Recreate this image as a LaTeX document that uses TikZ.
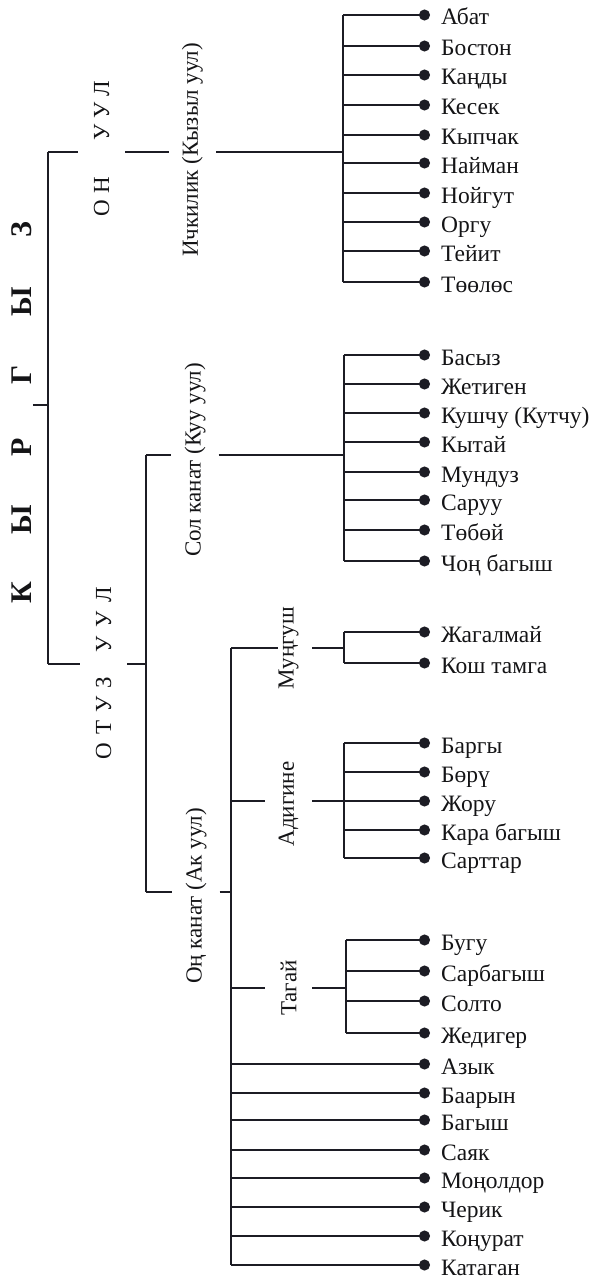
\documentclass[tikz,border=0pt]{standalone}
\usepackage{fontspec}
\setmainfont{Liberation Serif}
\usetikzlibrary{arrows.meta}
\definecolor{ink}{RGB}{28,28,36}
\definecolor{txt}{RGB}{20,20,22}
\begin{document}
\begin{tikzpicture}[x=1pt,y=-1pt,
  ln/.style={line width=1.15pt, draw=ink},
  lf/.style={ln, -{Circle[length=11pt,width=11pt]}},
  leaf/.style={anchor=west, inner xsep=11pt, inner ysep=0pt, text height=20pt, text depth=0pt,
               font=\fontsize{23.5}{25}\selectfont, text=txt},
  grp/.style={rotate=90, minimum height=47pt, inner sep=0pt, font=\fontsize{23}{25}\selectfont, text=txt},
  ttl/.style={rotate=90, inner xsep=0pt, inner ysep=0.5pt, font=\bfseries\fontsize{30}{32}\selectfont, text=txt}
]
\useasboundingbox (0,0) rectangle (595,1279);

% title
\node[ttl] (kyr) at (22,411) {\makebox[72.6pt]{К}\makebox[72.6pt]{Ы}\makebox[72.6pt]{Р}\makebox[72.6pt]{Г}\makebox[72.6pt]{Ы}\makebox[72.6pt]{З}};
\coordinate (root) at (48,405);
\coordinate (lbT) at (48,152);
\coordinate (lbB) at (48,664);
\draw[ln] (kyr.south |- root) -- (root);
\draw[ln] (lbT) -- (lbB);

% ОН УУЛ
\node[grp] (on) at (101.5,148.5) {О\kern6ptН\hspace{36pt}У\kern6ptУ\kern6ptЛ};
\node[grp] (ichk) at (192.5,150) {Ичкилик (Кызыл уул)};
\coordinate (g1in) at (343,152);
\draw[ln] (lbT) -- (on.north |- lbT);
\draw[ln] (on.south |- lbT) -- (ichk.north |- lbT);
\draw[ln] (ichk.south |- g1in) -- (g1in);
\coordinate (g1T) at (343,15);
\coordinate (g1B) at (343,282);
\draw[ln] (g1T) -- (g1B);
\foreach \n/\y [count=\i] in {Абат/15,Бостон/46,Каңды/75,Кесек/105,Кыпчак/135,Найман/163,Нойгут/193,Оргу/222,Тейит/251,Төөлөс/282}{
  \node[leaf] (a\i) at (430,\y) {\n};
  \coordinate (ab\i) at (343,\y);
  \draw[lf] (ab\i) -- (a\i.west);
}

% ОТУЗ УУЛ
\node[grp] (otuz) at (103.5,673) {О\kern8ptТ\kern8ptУ\kern8ptЗ\hspace{24pt}У\kern9ptУ\kern9ptЛ};
\coordinate (obM) at (146,664);
\coordinate (obT) at (146,455);
\coordinate (obB) at (146,892);
\draw[ln] (lbB) -- (otuz.north |- lbB);
\draw[ln] (otuz.south |- lbB) -- (obM);
\draw[ln] (obT) -- (obB);

% Сол канат
\node[grp] (sol) at (195,460) {Сол канат (Куу уул)};
\coordinate (g2in) at (344,455);
\draw[ln] (obT) -- (sol.north |- obT);
\draw[ln] (sol.south |- obT) -- (g2in);
\coordinate (g2T) at (344,355);
\coordinate (g2B) at (344,561);
\draw[ln] (g2T) -- (g2B);
\foreach \n/\y [count=\i] in {Басыз/355,Жетиген/384,Кушчу (Кутчу)/413,Кытай/442,Мундуз/472,Саруу/500,Төбөй/530,Чоң багыш/561}{
  \node[leaf] (b\i) at (430,\y) {\n};
  \coordinate (bb\i) at (344,\y);
  \draw[lf] (bb\i) -- (b\i.west);
}

% Оң канат
\node[grp] (ong) at (196,896) {Оң канат (Ак уул)};
\coordinate (ocM) at (231,892);
\coordinate (ocT) at (231,648);
\coordinate (ocB) at (231,1265);
\draw[ln] (obB) -- (ong.north |- obB);
\draw[ln] (ong.south |- obB) -- (ocM);
\draw[ln] (ocT) -- (ocB);

% Муңгуш
\node[grp] (mung) at (288.5,648) {Муңгуш};
\coordinate (mgin) at (344,648);
\draw[ln, shorten >=-13pt] (ocT) -- (mung.north |- ocT);
\draw[ln] (mung.south |- mgin) -- (mgin);
\coordinate (mgT) at (344,632);
\coordinate (mgB) at (344,663);
\draw[ln] (mgT) -- (mgB);
\foreach \n/\y [count=\i] in {Жагалмай/632,Кош тамга/663}{
  \node[leaf] (c\i) at (430,\y) {\n};
  \coordinate (cb\i) at (344,\y);
  \draw[lf] (cb\i) -- (c\i.west);
}

% Адигине
\node[grp] (adig) at (288.5,804) {Адигине};
\coordinate (adL) at (231,801);
\coordinate (adin) at (344,801);
\draw[ln] (adL) -- (adig.north |- adL);
\draw[ln] (adig.south |- adin) -- (adin);
\coordinate (adT) at (344,743);
\coordinate (adB) at (344,858);
\draw[ln] (adT) -- (adB);
\foreach \n/\y [count=\i] in {Баргы/743,Бөрү/772,Жору/801,Кара багыш/830,Сарттар/858}{
  \node[leaf] (d\i) at (430,\y) {\n};
  \coordinate (db\i) at (344,\y);
  \draw[lf] (db\i) -- (d\i.west);
}

% Тагай
\node[grp] (tag) at (288.5,988) {Тагай};
\coordinate (tgL) at (231,988);
\coordinate (tgin) at (346,988);
\draw[ln] (tgL) -- (tag.north |- tgL);
\draw[ln] (tag.south |- tgin) -- (tgin);
\coordinate (tgT) at (346,940);
\coordinate (tgB) at (346,1033);
\draw[ln] (tgT) -- (tgB);
\foreach \n/\y [count=\i] in {Бугу/940,Сарбагыш/971,Солто/1001,Жедигер/1033}{
  \node[leaf] (e\i) at (430,\y) {\n};
  \coordinate (eb\i) at (346,\y);
  \draw[lf] (eb\i) -- (e\i.west);
}

% direct leaves
\foreach \n/\y [count=\i] in {Азык/1064,Баарын/1093,Багыш/1120,Саяк/1150,Моңолдор/1178,Черик/1207,Коңурат/1236,Катаган/1265}{
  \node[leaf] (f\i) at (430,\y) {\n};
  \coordinate (fb\i) at (231,\y);
  \draw[lf] (fb\i) -- (f\i.west);
}
\end{tikzpicture}
\end{document}
